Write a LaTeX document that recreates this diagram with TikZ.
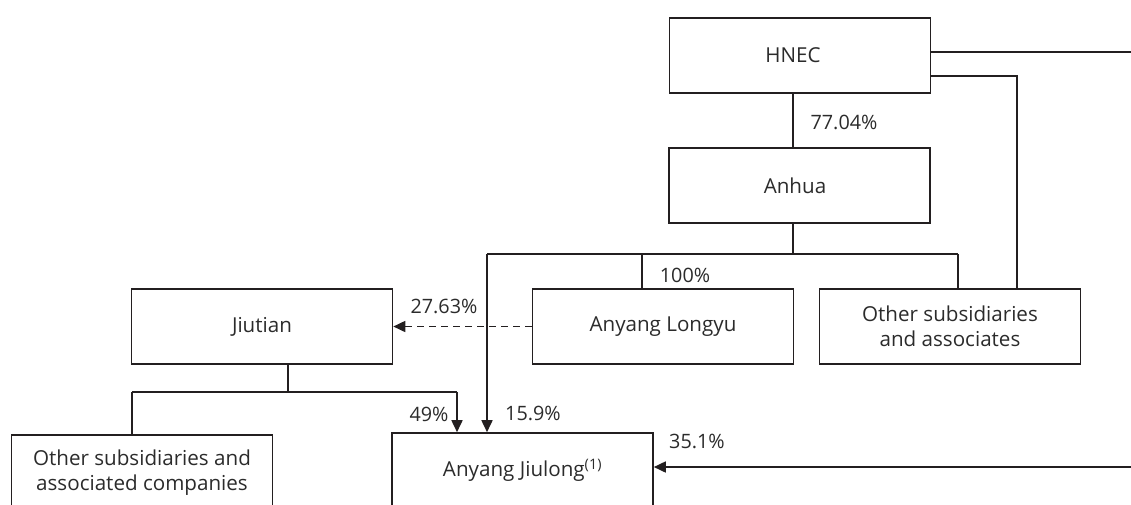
\documentclass[tikz,border=0pt]{standalone}
\usepackage{fontspec}
\setmainfont{Open Sans}
\usetikzlibrary{arrows.meta}
\definecolor{ln}{HTML}{231F20}
\definecolor{tx}{HTML}{2B2B2B}
\tikzset{
  ent/.style={draw=ln, line width=1.6pt, minimum width=261pt, minimum height=75pt, inner sep=0pt, text=tx, font=\fontsize{20.6}{25}\selectfont, align=center},
  conn/.style={draw=ln, line width=1.7pt},
  arr/.style={conn, -{Triangle[length=12pt,width=11pt]}},
  pct/.style={text=tx, font=\fontsize{19.8}{23}\selectfont, inner sep=0pt},
}
\begin{document}
\begin{tikzpicture}[x=1pt,y=-1pt]
\useasboundingbox (0,0) rectangle (1131,504);
\clip (0,0) rectangle (1131,504);
\node[ent] (hnec) at (800,55.5) {HNEC\hspace*{14pt}};
\node[ent] (anhua) at (799.5,185.5) {Anhua\hspace*{9pt}};
\node[ent] (longyu) at (663,326.5) {Anyang Longyu};
\node[ent] (othera) at (950,326.5) {Other subsidiaries\\and associates};
\node[ent] (jiutian) at (262,326.5) {Jiutian};
\node[ent] (otherc) at (142,472.5) {Other subsidiaries and\\associated companies};
\node[ent] (jiulong) at (522.5,470.5) {Anyang Jiulong\textsuperscript{(1)}};
% coordinates
\coordinate (xa) at (793,0);
\coordinate (busL) at (487,254);
\coordinate (busM) at (793,254);
\coordinate (busLy) at (642,254);
\coordinate (busR) at (958,254);
\coordinate (edgeT) at (1131,52);
\coordinate (h2) at (931,76);
\coordinate (h2x) at (1017,76);
\coordinate (edgeB) at (1131,467);
\coordinate (jd) at (288,392);
\coordinate (jl) at (132,392);
\coordinate (jr) at (457,392);
% connectors
\draw[conn] (hnec.south -| xa) -- (anhua.north -| xa);
\draw[conn] (edgeT -| hnec.east) -- (edgeT);
\draw[conn] (h2) -- (h2x) -- (othera.north -| h2x);
\draw[conn] (anhua.south -| xa) -- (busM);
\draw[conn] (busL) -- (busR);
\draw[conn] (busLy) -- (longyu.north -| busLy);
\draw[conn] (busR) -- (othera.north -| busR);
\draw[arr] (busL) -- (jiulong.north -| busL);
\draw[arr, dash pattern=on 7pt off 5pt] (longyu.west) -- (jiutian.east);
\draw[conn] (jiutian.south -| jd) -- (jd);
\draw[conn] (jl) -- (jr);
\draw[conn] (jl) -- (otherc.north -| jl);
\draw[arr] (jr) -- (jiulong.north -| jr);
\draw[arr] (edgeB) -- (jiulong.east |- edgeB);
% labels
\node[pct] (l1) at (844,122) {77.04\%};
\node[pct] (l2) at (685,275) {100\%};
\node[pct] (l3) at (444,306) {27.63\%};
\node[pct] (l4) at (429,414) {49\%};
\node[pct] (l5) at (533,413) {15.9\%};
\node[pct] (l6) at (697,441) {35.1\%};
\end{tikzpicture}
\end{document}
